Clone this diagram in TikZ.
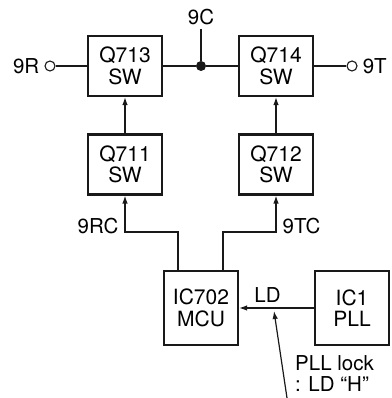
\documentclass[tikz,border=0pt]{standalone}
\usepackage{fontspec}
\setmainfont{TeX Gyre Heros}
\usetikzlibrary{arrows.meta,positioning}
\tikzset{
  blk/.style={
    rectangle, draw=black!90, line width=2.2pt,
    minimum width=74pt, minimum height=60pt, inner sep=0pt,
    align=center, font=\fontsize{21}{21.5}\selectfont
  },
  sqblk/.style={blk, minimum height=74pt},
  term/.style={circle, draw=black!90, line width=1.1pt, fill=white,
               minimum size=10pt, inner sep=0pt},
  junc/.style={circle, fill=black!90, minimum size=10pt, inner sep=0pt},
  lbl/.style={font=\fontsize{20.5}{21}\selectfont, inner sep=1pt},
  wire/.style={line width=1.2pt, draw=black!90},
  flow/.style={-{Latex[length=8pt,width=5.5pt]}, line width=1.2pt, draw=black!90}
}

\begin{document}
\begin{tikzpicture}[x=1pt, y=1pt]
  \useasboundingbox (0,0) rectangle (391,398);

  % Switch blocks
  \node[blk] (Q713) at (125,332) {Q713\\SW};
  \node[blk] (Q714) at (276,332) {Q714\\SW};
  \node[blk] (Q711) at (125,233.5) {Q711\\SW};
  \node[blk] (Q712) at (276,233.5) {Q712\\SW};
  \node[sqblk] (IC702) at (201,90) {IC702\\MCU};
  \node[sqblk] (IC1) at (352,90) {IC1\\PLL};

  % 9C supply and terminals
  \node[junc] (jc) at (201,332) {};
  \coordinate (c9) at (201,369);
  \node[lbl, above=3pt of c9] {9C};
  \node[term] (tR) at (50,332) {};
  \node[term] (tT) at (352,332) {};
  \node[lbl, left=4pt of tR] {9R};
  \node[lbl, right=4pt of tT] {9T};

  \draw[wire] (tR) -- (Q713.west);
  \draw[wire] (Q713.east) -- (jc) -- (Q714.west);
  \draw[wire] (Q714.east) -- (tT);
  \draw[wire] (c9) -- (jc);

  \draw[flow] (Q711.north) -- (Q713.south);
  \draw[flow] (Q712.north) -- (Q714.south);

  % Control lines from the MCU
  \draw[flow] ([xshift=-23pt]IC702.north) |- (125,166) -- (Q711.south)
    node[lbl, pos=0.17, left=5pt] {9RC};
  \draw[flow] ([xshift=22pt]IC702.north) |- (276,166) -- (Q712.south)
    node[lbl, pos=0.17, right=5pt] {9TC};

  % Lock detect
  \draw[flow] (IC1.west) -- (IC702.east)
    node[lbl, pos=0.62, above=4pt] {LD};
  \coordinate (ldp) at (274,87);
  \coordinate (nb) at (287,0);
  \draw[flow] (nb) -- (ldp);
  \node[lbl, align=left, anchor=north west] at (294,44) {PLL lock\\: LD “H”};

\end{tikzpicture}
\end{document}
